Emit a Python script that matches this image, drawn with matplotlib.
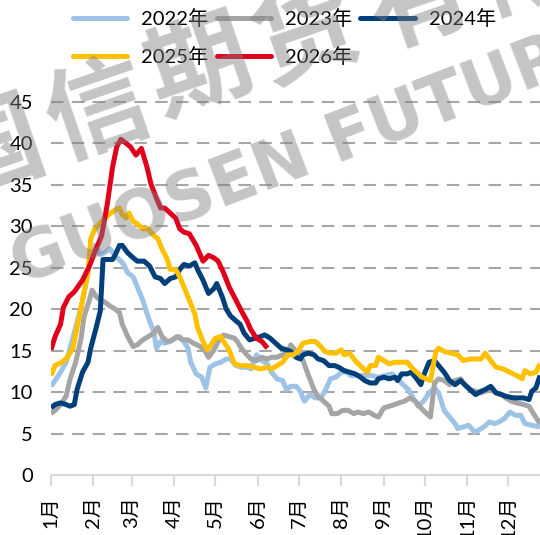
import matplotlib
matplotlib.use("Agg")
import matplotlib.pyplot as plt
from matplotlib.lines import Line2D

plt.rcParams['font.family'] = ['Lato', 'Noto Sans CJK SC', 'DejaVu Sans']

# ---- data (x = day of year, y = value) ----
months = ['1月', '2月', '3月', '4月', '5月', '6月', '7月', '8月', '9月', '10月', '11月', '12月']
month_start_days = [0, 31, 59, 90, 120, 151, 181, 212, 243, 273, 304, 334]

x2022 = [0, 3, 7, 11, 14, 18, 22, 26, 29, 32, 36, 39, 43, 47, 51, 53, 56, 60, 63, 67, 71, 75, 77, 80, 83, 87, 90, 94, 97, 100,
         102, 106, 110, 113, 116, 120, 124, 128, 131, 135, 139, 143, 146, 150, 154, 158, 161, 165, 169, 172, 175, 179, 182, 185,
         189, 193, 197, 200, 204, 208, 212, 216, 219, 224, 229, 234, 239, 244, 249, 253, 257, 261, 265, 268, 272, 276, 280, 283,
         287, 291, 295, 297, 301, 305, 309, 312, 316, 320, 324, 327, 331, 335, 339, 343, 346, 351, 357]
y2022 = [10.7, 11.4, 12.4, 13.6, 15.3, 17.8, 20.2, 23.5, 26.0, 27.7, 26.6, 26.8, 27.3, 26.4, 25.8, 25.4, 24.4, 23.9, 22.7, 21.1,
         19.0, 17.3, 15.3, 16.1, 15.9, 16.1, 16.5, 16.7, 16.1, 15.3, 13.6, 12.2, 11.8, 10.5, 13.0, 13.4, 13.6, 14.0, 14.0, 13.2,
         13.0, 13.0, 12.8, 14.5, 13.8, 13.4, 12.4, 11.6, 11.4, 10.3, 10.7, 10.7, 10.1, 8.9, 9.7, 9.3, 9.3, 10.1, 11.6, 11.8,
         12.4, 12.4, 12.0, 12.0, 12.0, 12.0, 11.8, 12.0, 12.2, 11.6, 10.9, 10.3, 9.1, 8.3, 8.9, 9.9, 10.5, 9.9, 7.8, 7.0,
         6.2, 5.6, 5.8, 6.0, 5.2, 5.4, 5.8, 6.4, 6.2, 6.4, 6.8, 7.6, 7.2, 7.2, 6.2, 6.0, 5.8]

x2023 = [0, 3, 7, 11, 14, 18, 22, 24, 28, 30, 33, 36, 39, 43, 47, 50, 52, 56, 60, 63, 67, 71, 75, 78, 81, 85, 89, 92, 96, 100,
         104, 109, 112, 115, 119, 122, 126, 130, 134, 136, 139, 143, 146, 150, 154, 158, 161, 165, 169, 173, 175, 178, 182, 184,
         188, 192, 195, 199, 203, 205, 209, 213, 217, 221, 224, 228, 232, 236, 239, 243, 247, 251, 254, 258, 262, 266, 270, 273,
         277, 280, 283, 287, 291, 295, 299, 302, 306, 310, 314, 317, 321, 325, 329, 332, 336, 340, 345, 349, 353, 357]
y2023 = [7.4, 7.8, 8.5, 9.5, 11.6, 13.6, 16.5, 19.0, 21.1, 22.3, 21.5, 21.1, 20.9, 20.4, 20.0, 19.6, 18.2, 16.7, 15.5, 15.7,
         16.3, 16.7, 17.1, 17.8, 16.7, 16.1, 16.3, 16.7, 16.3, 16.3, 15.9, 15.5, 15.1, 14.2, 15.1, 16.1, 16.9, 16.7, 16.5, 16.1,
         15.3, 14.5, 14.0, 13.8, 14.2, 14.0, 14.2, 14.2, 14.5, 14.7, 15.7, 15.1, 14.5, 13.8, 12.0, 10.3, 9.5, 8.9, 8.3, 7.4,
         7.4, 7.8, 7.8, 7.4, 7.6, 7.4, 7.6, 7.2, 7.0, 8.1, 8.3, 8.5, 8.7, 8.9, 9.3, 8.9, 8.1, 7.6, 7.0, 11.1,
         11.6, 11.4, 10.9, 11.4, 11.6, 10.9, 10.3, 10.1, 9.9, 10.1, 10.3, 9.9, 9.7, 9.3, 8.9, 8.7, 8.5, 8.3, 7.2, 6.2]

x2024 = [0, 3, 7, 11, 14, 17, 19, 23, 27, 29, 33, 36, 38, 41, 45, 47, 50, 52, 56, 60, 63, 68, 72, 76, 80, 83, 87, 91, 94, 97,
         101, 105, 107, 111, 115, 119, 121, 125, 128, 131, 135, 138, 141, 145, 149, 153, 156, 160, 164, 168, 172, 175, 179, 182,
         184, 188, 192, 195, 199, 203, 207, 210, 214, 218, 222, 226, 229, 233, 237, 239, 243, 247, 251, 253, 256, 260, 263, 267,
         270, 272, 276, 280, 283, 287, 291, 295, 299, 302, 306, 310, 314, 317, 321, 325, 329, 332, 338, 341, 345, 349, 351, 354, 357]
y2024 = [8.1, 8.5, 8.7, 8.5, 8.3, 8.5, 10.3, 12.4, 13.6, 15.3, 17.8, 19.8, 26.0, 26.0, 26.0, 26.6, 27.7, 27.7, 26.8, 26.2,
         25.8, 25.8, 25.2, 23.9, 23.7, 23.1, 23.7, 23.9, 24.8, 25.4, 25.2, 25.6, 24.8, 23.5, 21.9, 22.5, 23.1, 21.5, 20.0, 19.2,
         18.6, 18.2, 17.1, 16.3, 16.5, 16.7, 16.9, 16.5, 15.9, 15.3, 15.1, 14.9, 14.2, 14.0, 14.5, 14.7, 14.5, 14.0, 13.8, 13.2,
         13.2, 13.0, 12.6, 12.4, 12.2, 11.8, 11.4, 11.1, 11.1, 11.6, 11.8, 11.6, 11.8, 11.4, 12.2, 12.2, 12.4, 11.6, 10.9, 12.0,
         13.6, 13.8, 13.2, 12.4, 11.4, 10.9, 11.4, 10.9, 10.3, 9.7, 10.1, 10.3, 10.7, 9.9, 9.7, 9.5, 9.3, 9.3, 9.3, 9.1,
         10.1, 10.5, 12.0]

x2025 = [0, 3, 8, 12, 16, 19, 23, 27, 29, 32, 37, 42, 47, 50, 52, 55, 57, 60, 63, 67, 71, 75, 78, 81, 85, 87, 91, 94, 97, 101,
         105, 107, 111, 114, 116, 120, 124, 126, 130, 134, 139, 144, 148, 153, 158, 161, 165, 169, 173, 177, 180, 184, 189, 193,
         197, 200, 204, 208, 212, 214, 218, 222, 227, 231, 233, 237, 239, 243, 247, 251, 254, 260, 263, 267, 271, 277, 281, 283,
         287, 292, 297, 301, 306, 310, 314, 317, 321, 325, 330, 335, 340, 344, 346, 350, 354, 357]
y2025 = [12.0, 13.2, 13.6, 14.2, 15.3, 17.8, 21.1, 24.4, 28.5, 29.7, 30.6, 31.4, 32.0, 32.2, 31.4, 31.0, 31.6, 30.6, 30.3, 29.7,
         29.7, 28.9, 28.5, 27.3, 26.0, 24.8, 24.8, 23.9, 22.7, 21.1, 19.4, 17.8, 16.1, 15.1, 15.5, 16.5, 16.7, 16.1, 15.1, 13.4,
         13.2, 13.2, 13.0, 12.8, 13.0, 12.8, 13.2, 13.6, 14.5, 14.5, 14.9, 15.9, 16.1, 16.1, 15.5, 14.9, 14.7, 14.7, 15.1, 14.5,
         14.7, 13.8, 13.0, 12.4, 13.2, 13.2, 14.2, 13.8, 13.4, 13.6, 13.6, 13.6, 13.0, 12.4, 11.8, 11.4, 14.9, 15.3, 14.9, 14.7,
         14.5, 13.8, 14.0, 14.0, 14.0, 14.7, 13.8, 13.0, 12.8, 12.4, 12.0, 11.6, 12.6, 12.2, 12.4, 13.4]

x2026 = [0, 3, 7, 9, 13, 17, 23, 28, 33, 37, 41, 45, 48, 51, 55, 58, 62, 66, 70, 73, 77, 80, 83, 87, 91, 94, 97, 101, 106, 111,
         115, 119, 122, 126, 130, 135, 139, 143, 146, 150, 154, 156, 158]
y2026 = [15.1, 16.7, 18.2, 20.2, 21.5, 22.1, 23.5, 25.2, 27.3, 28.9, 32.6, 37.2, 39.6, 40.5, 40.0, 39.6, 38.6, 39.4, 37.2, 35.1,
         33.4, 32.2, 32.2, 31.6, 31.0, 29.7, 29.3, 29.1, 27.7, 25.8, 26.5, 26.2, 25.8, 24.4, 22.7, 21.1, 19.8, 18.6, 17.5, 16.5,
         16.1, 15.7, 15.3]

series_labels = ['2022年', '2023年', '2024年', '2025年', '2026年']
series_colors = ['#9DC3E6', '#A5A5A5', '#003F7A', '#FFC000', '#E0001B']
yticks = [0, 5, 10, 15, 20, 25, 30, 35, 40, 45]

W, H = 540, 535
fig = plt.figure(figsize=(W / 100, H / 100), dpi=100)
ax = fig.add_axes([51 / W, 1 - 475 / H, (W - 51) / W, (475 - 102) / H])

xs = [x2022, x2023, x2024, x2025, x2026]
ys = [y2022, y2023, y2024, y2025, y2026]
for xv, yv, c, lab in zip(xs, ys, series_colors, series_labels):
    ax.plot(xv, yv, color=c, lw=3.6, label=lab, solid_joinstyle='round', solid_capstyle='butt', zorder=3)

ax.set_xlim(0, 357)
ax.set_ylim(0, 45)
for v in yticks[1:]:
    ax.axhline(v, color='#A6A6A6', lw=1.5, linestyle=(0, (6, 4)), zorder=1, clip_on=False)
ax.axhline(0, color='#D9D9D9', lw=1.5, zorder=2, clip_on=False)
for s in ax.spines.values():
    s.set_visible(False)

ax.set_yticks(yticks)
ax.set_yticklabels([str(v) for v in yticks])
ax.tick_params(axis='y', length=0, pad=13, labelsize=14.5, labelcolor='#000000')
ax.set_xticks(month_start_days)
ax.set_xticklabels(months, rotation=90)
ax.tick_params(axis='x', length=8, width=1.5, color='#D9D9D9', pad=7, labelsize=14.5, labelcolor='#000000')
for lbl in ax.get_xticklabels():
    lbl.set_verticalalignment('top')

# legend: row-wise order (2022, 2023, 2024 / 2025, 2026) -> column-major order for matplotlib
order = [0, 3, 1, 4, 2]
handles = [Line2D([0], [0], color=series_colors[i], lw=3.6, solid_capstyle='round') for i in order]
labels = [series_labels[i] for i in order]
fig.legend(handles, labels, loc='upper left', bbox_to_anchor=(73 / W, 1 - 9 / H), ncol=3, frameon=False,
           fontsize=14.5, handlelength=2.7, handletextpad=0.7, columnspacing=0.4, labelspacing=0.95,
           borderpad=0, borderaxespad=0)

# watermark
wm_color = '#7F7F7F'
cn_chars = ['国', '信', '期', '货', '有', '限']
cn_pos = [(-8, 150), (98, 113), (200, 70), (306, 38), (420, 2), (530, -34)]
for ch, (px, py) in zip(cn_chars, cn_pos):
    fig.text(px / W, 1 - py / H, ch, fontsize=74, fontweight='bold', color=wm_color, alpha=0.45,
             family=['Noto Sans CJK SC'], rotation=19, ha='center', va='center', zorder=10)
fig.text(332 / W, 1 - 145 / H, 'GUOSEN FUTURES', fontsize=48, fontweight='bold', color=wm_color, alpha=0.45,
         family=['DejaVu Sans'], rotation=21, ha='center', va='center', rotation_mode='anchor', zorder=10)

fig.savefig('out.png', dpi=100)
